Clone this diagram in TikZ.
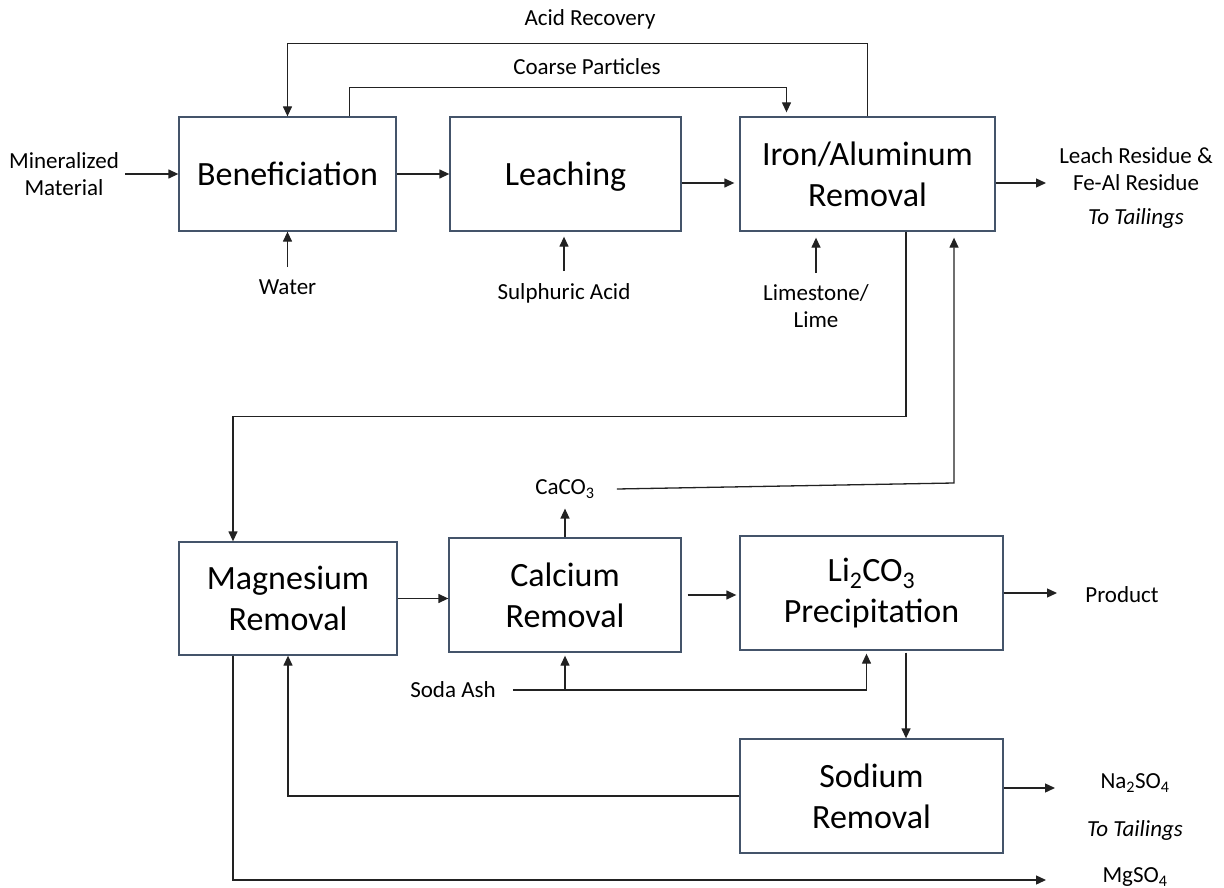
\documentclass[tikz,border=0pt]{standalone}
\usepackage{fontspec}
\setmainfont{Carlito}
\usetikzlibrary{arrows.meta, positioning}
\definecolor{boxline}{HTML}{44546A}
\definecolor{flow}{HTML}{222222}

\begin{document}
\begin{tikzpicture}[x=1pt, y=-1pt,
            proc/.style={rectangle, draw=boxline, line width=1.3pt, minimum height=114pt, align=center, inner sep=2pt, font=\fontsize{34}{41}\selectfont},
            lbl/.style={align=center, inner sep=0pt, font=\fontsize{23}{27}\selectfont},
            arrow/.style={-{Triangle[length=10pt, width=9pt]}, line width=1.3pt, draw=flow}
        ]
\useasboundingbox (0,0) rectangle (1224,888);

% Front end units
            \node[proc, minimum width=217pt] (ben) at (287.5,174) {Beneficiation};
            \node[proc, minimum width=231pt, text depth=0pt] (leach) at (565.5,174) {Leaching};
            \node[proc, minimum width=255pt] (iron) at (867.5,174) {Iron/Aluminum\\Removal};

% Purification units
            \node[proc, minimum width=218pt, minimum height=113pt] (mg) at (288,598.5) {Magnesium\\Removal};
            \node[proc, minimum width=232pt] (ca) at (565,595) {Calcium\\Removal};
            \node[proc, minimum width=263pt] (li) at (871.5,593) {Li\textsubscript{2}CO\textsubscript{3}\\Precipitation};
            \node[proc, minimum width=263pt] (na) at (871.5,796) {Sodium\\Removal};

% Feeds and products
            \node[lbl] (mineral) at (64,174) {Mineralized\\Material};
            \node[lbl] (acid) at (590,19) {Acid Recovery};
            \node[lbl] (coarse) at (587,67) {Coarse Particles};
            \node[lbl, anchor=north] (water) at (287.5,280) {Water};
            \node[lbl, anchor=north] (sulph) at (564,283) {Sulphuric Acid};
            \node[lbl, anchor=north] (lime) at (816,284) {Limestone/\\Lime};
            \node[lbl, anchor=north] (resid) at (1136,147) {Leach Residue \&\\Fe-Al Residue\\[7pt]\textit{To Tailings}};
            \node[lbl] (caco) at (565,489) {CaCO\textsubscript{3}};
            \node[lbl] (soda) at (453,690) {Soda Ash};
            \node[lbl] (prod) at (1122,595) {Product};
            \node[lbl] (naso) at (1135,783) {Na\textsubscript{2}SO\textsubscript{4}};
            \node[lbl] (tail) at (1135,830) {\textit{To Tailings}};
            \node[lbl] (mgso) at (1135,877) {MgSO\textsubscript{4}};

            \coordinate (residin) at (1046,183);
            \coordinate (prodin) at (1057,593);
            \coordinate (nasoin) at (1055,788);
            \coordinate (mgsoin) at (1046,880);
            \coordinate (cacoturn) at (954,483);

% Main flow
            \draw[arrow] ([xshift=6pt]mineral.east) -- (ben.west);
            \draw[arrow] (ben.east) -- (leach.west);
            \draw[arrow, shorten >=5pt] ([yshift=-9pt]leach.east) -- ([yshift=-9pt]iron.west);
            \draw[arrow] ([yshift=-9pt]iron.east) -- (residin);
            \draw[arrow] ([xshift=38.5pt]iron.south) -- ++(0,185) -| ([xshift=-55pt]mg.north);
            \draw[arrow] (mg.east) -- (ca.west |- mg.east);
            \draw[arrow, shorten <=6pt, shorten >=3pt] (ca.east) -- (li.west |- ca.east);
            \draw[arrow] (li.east) -- (prodin);
            \draw[arrow, shorten <=2pt] ([xshift=34.5pt]li.south) -- ([xshift=34.5pt]na.north);
            \draw[arrow] ([yshift=8pt]na.east) -- (nasoin);

% Recycles
            \draw[arrow] (iron.north) -- ++(0,-73) -| (ben.north);
            \draw[arrow, shorten >=4pt] ([xshift=62pt]ben.north) -- ++(0,-29) -| ([xshift=-81pt]iron.north);
            \draw[arrow] (na.west) -| (mg.south);
            \draw[arrow] ([xshift=-55pt]mg.south) |- (mgsoin);
            \draw[arrow] (ca.north) -- ([yshift=-10pt]caco.south);
            \draw[arrow, shorten >=6pt] ([xshift=22pt]caco.east) -- (cacoturn) -- (cacoturn |- iron.south);

% Reagents
            \draw[arrow] ([yshift=13pt]water.north) -- (water.north |- ben.south);
            \draw[arrow, shorten >=5pt] ([yshift=12pt]sulph.north) -- (sulph.north |- leach.south);
            \draw[arrow, shorten >=6pt] ([yshift=11pt]lime.north) -- (lime.north |- iron.south);
            \draw[arrow, shorten >=3pt] ([xshift=17pt]soda.east) -| ([xshift=-5pt]li.south);
            \draw[arrow, shorten >=3pt] (ca.south |- soda.east) -- (ca.south);

        \end{tikzpicture}
\end{document}
